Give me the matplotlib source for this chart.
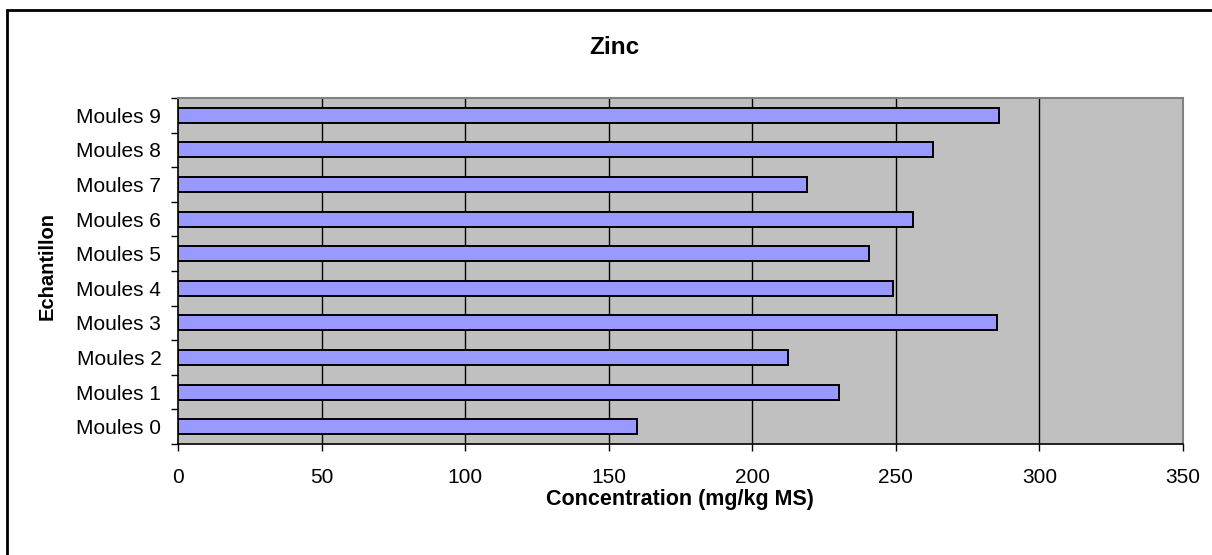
import matplotlib
matplotlib.use("Agg")
import matplotlib.pyplot as plt
from matplotlib.patches import Rectangle
import numpy as np

categories = ["Moules 0", "Moules 1", "Moules 2", "Moules 3", "Moules 4",
              "Moules 5", "Moules 6", "Moules 7", "Moules 8", "Moules 9"]
values = [160.0, 230.3, 212.3, 285.3, 249.1, 240.7, 256.0, 219.1, 263.1, 286.0]
xticks = [0, 50, 100, 150, 200, 250, 300, 350]

plt.rcParams['font.family'] = ['Liberation Sans', 'DejaVu Sans']

W, H = 1212, 555
fig = plt.figure(figsize=(W / 100, H / 100), dpi=100)
fig.patch.set_facecolor('white')

left, right, top, bottom = 178, 1183, 98, 444
ax = fig.add_axes([left / W, 1 - bottom / H, (right - left) / W, (bottom - top) / H])
ax.set_facecolor('#C0C0C0')

y = np.arange(len(categories))
ax.barh(y, values, height=0.43, color='#9999FF', edgecolor='black', linewidth=1.4, zorder=3)

ax.set_xlim(0, 350)
ax.set_ylim(-0.5, len(categories) - 0.5)
ax.set_xticks(xticks)
ax.set_xticklabels([str(t) for t in xticks], fontsize=15)
ax.tick_params(axis='x', direction='out', length=5, width=1, pad=12, colors='black')
for t in xticks[1:-1]:
    ax.axvline(t, color='black', linewidth=1, zorder=1)

ax.set_yticks(np.arange(-0.5, len(categories), 1.0))
ax.set_yticklabels([])
ax.set_yticks(y, minor=True)
ax.set_yticklabels(categories, minor=True, fontsize=15)
ax.tick_params(axis='y', which='major', direction='out', length=5, width=1)
ax.tick_params(axis='y', which='minor', length=0, pad=12)

for s in ['left', 'bottom']:
    ax.spines[s].set_color('black')
    ax.spines[s].set_linewidth(1.2)
for s in ['top', 'right']:
    ax.spines[s].set_color('#808080')
    ax.spines[s].set_linewidth(1.5)

fig.text(614 / W, 1 - 47 / H, "Zinc", ha='center', va='center', fontsize=17.5, fontweight='bold')
fig.text(680 / W, 1 - 499 / H, "Concentration (mg/kg MS)", ha='center', va='center',
         fontsize=15.5, fontweight='bold')
fig.text(47 / W, 1 - 266 / H, "Echantillon", ha='center', va='center', rotation=90,
         fontsize=14.5, fontweight='bold')

fig.patches.append(Rectangle((7 / W, -0.1), 1.2, 1 - 10 / H + 0.1, transform=fig.transFigure,
                             fill=False, edgecolor='black', linewidth=2, clip_on=False))

fig.savefig("out.png", dpi=100)
